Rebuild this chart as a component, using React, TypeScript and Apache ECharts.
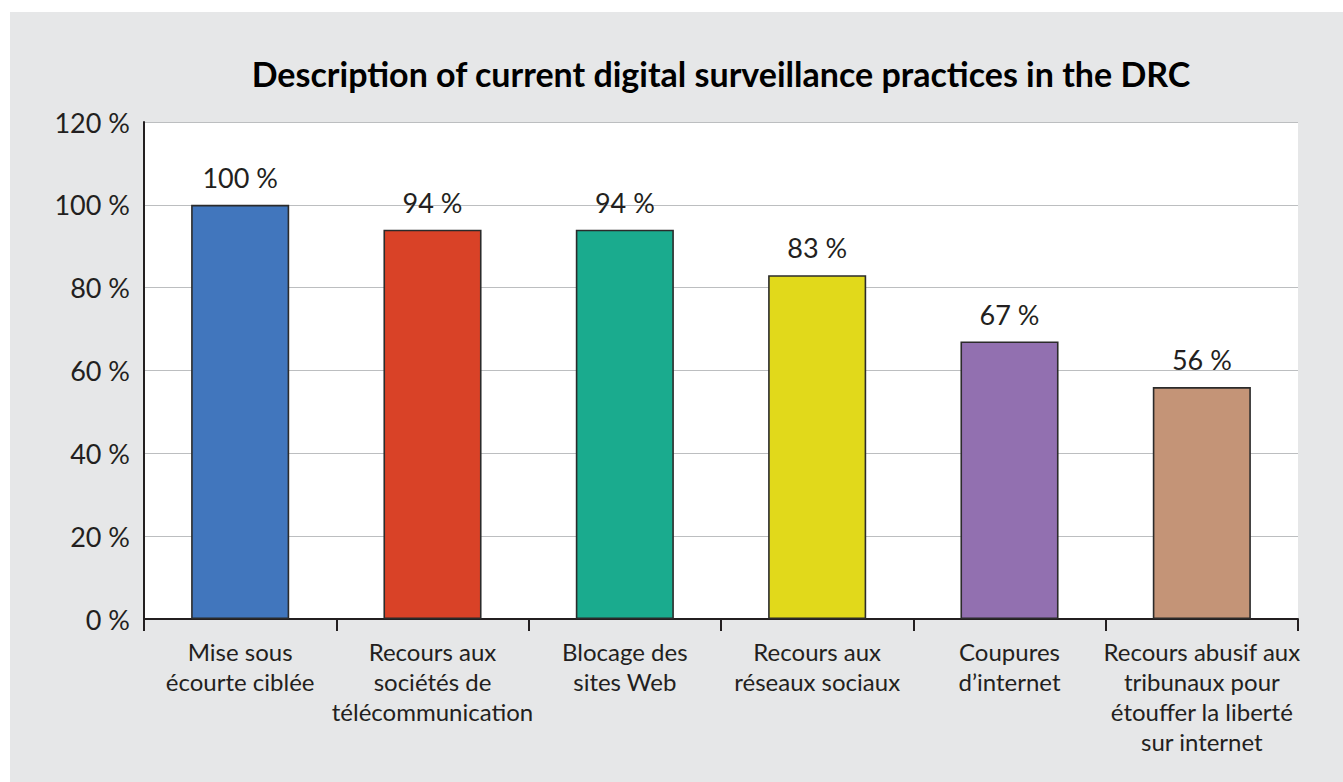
import React, { useEffect, useRef } from "react";
import * as echarts from "echarts";

const TITLE = "Description of current digital surveillance practices in the DRC";
const categories = [
  "Mise sous\nécourte ciblée",
  "Recours aux\nsociétés de\ntélécommunication",
  "Blocage des\nsites Web",
  "Recours aux\nréseaux sociaux",
  "Coupures\nd’internet",
  "Recours abusif aux\ntribunaux pour\nétouffer la liberté\nsur internet",
];
const values = [100, 94, 94, 83, 67, 56];
const barColors = ["#4176bd", "#d94227", "#1aab8e", "#e1d91b", "#9270b0", "#c49477"];
const yMin = 0;
const yMax = 120;
const yStep = 20;

const FONT = "Lato, 'Open Sans', sans-serif";
const INK = "#231f20";

export default function App() {
  const ref = useRef<HTMLDivElement>(null);
  useEffect(() => {
    if (!ref.current) return;
    const chart = echarts.init(ref.current, undefined, { renderer: "svg" });
    chart.setOption({
      animation: false,
      backgroundColor: "transparent",
      textStyle: { fontFamily: FONT },
      graphic: [
        {
          type: "text",
          x: 721,
          y: 73,
          style: {
            text: TITLE,
            fill: "#000",
            font: `bold 34px ${FONT}`,
            textAlign: "center",
            textVerticalAlign: "middle",
          },
        },
      ],
      grid: {
        left: 144,
        top: 122,
        right: 45,
        bottom: 163,
        show: true,
        backgroundColor: "#ffffff",
        borderWidth: 0,
        containLabel: false,
      },
      xAxis: {
        type: "category",
        data: categories,
        axisLine: { lineStyle: { color: INK, width: 2 } },
        axisTick: { show: true, length: 12, lineStyle: { color: INK, width: 2 } },
        axisLabel: {
          interval: 0,
          color: INK,
          fontSize: 24,
          lineHeight: 30,
          margin: 17,
          fontFamily: FONT,
        },
      },
      yAxis: {
        type: "value",
        min: yMin,
        max: yMax,
        interval: yStep,
        axisLine: { show: true, lineStyle: { color: INK, width: 2 } },
        axisTick: { show: false },
        splitLine: { lineStyle: { color: "#bcbec0", width: 1.2 } },
        axisLabel: {
          color: INK,
          fontSize: 27,
          margin: 14,
          fontFamily: FONT,
          formatter: "{value} %",
        },
      },
      series: [
        {
          type: "bar",
          data: values.map((v, i) => ({ value: v, itemStyle: { color: barColors[i] } })),
          barWidth: "51%",
          itemStyle: { borderColor: "#2b2b2b", borderWidth: 1.6 },
          label: {
            show: true,
            position: "top",
            distance: 14,
            color: INK,
            fontSize: 27,
            fontFamily: FONT,
            formatter: "{c} %",
          },
        },
      ],
    });
    return () => chart.dispose();
  }, []);
  return (
    <div style={{ position: "fixed", left: 0, top: 0, width: 1343, height: 782, background: "#ffffff" }}>
      <div style={{ position: "absolute", left: 10, top: 12, width: 1333, height: 770, background: "#e6e7e8" }} />
      <div ref={ref} style={{ position: "absolute", left: 0, top: 0, width: 1343, height: 782 }} />
    </div>
  );
}
